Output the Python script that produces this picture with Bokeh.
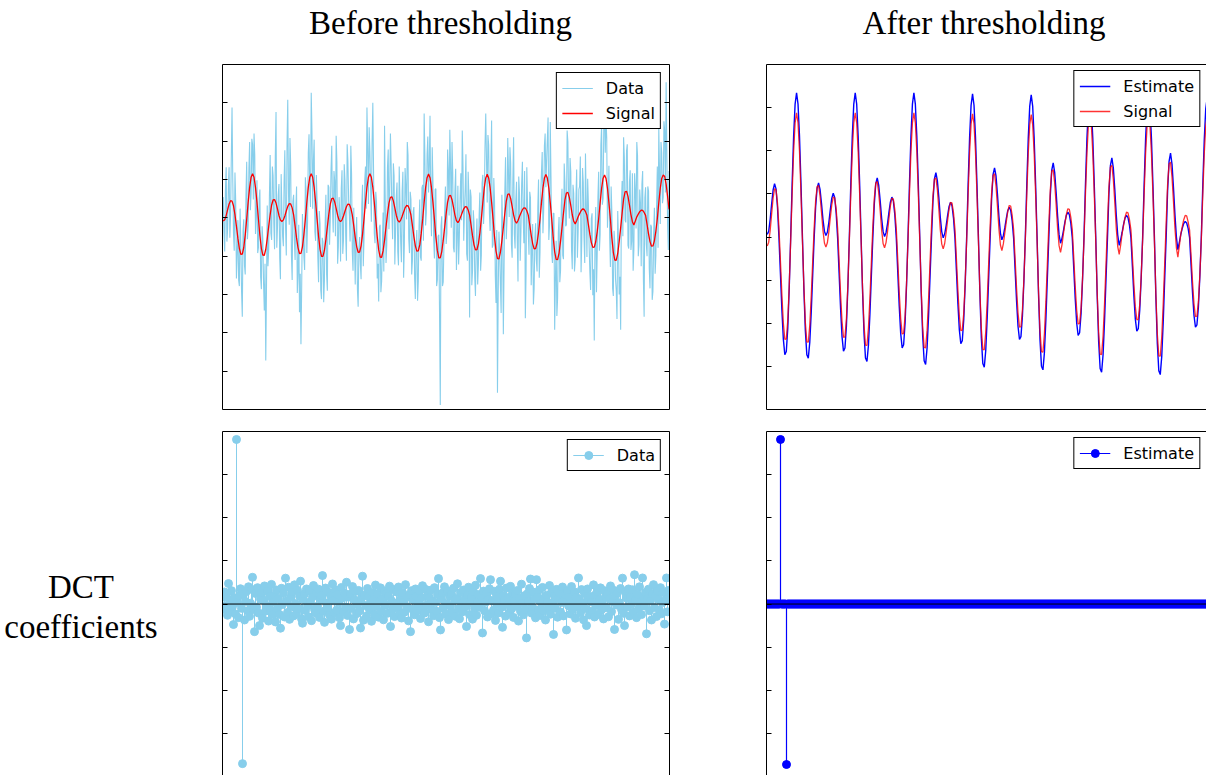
from bokeh.plotting import figure
from bokeh.models import (Range1d, LinearAxis, FixedTicker, Legend, LegendItem,
                          Span, Div, ColumnDataSource)
from bokeh.layouts import row, column
from bokeh.embed import file_html
from bokeh.resources import INLINE

# ---------------- data ----------------
sample_index = list(range(305))

signal = [
    -0.42, -0.24, 0.29, 1.07, 1.80, 2.24, 2.18, 1.57, 0.41, -1.10,
    -2.68, -4.00, -4.75, -4.73, -3.87, -2.25, -0.15, 2.03, 3.97, 5.29,
    5.76, 5.29, 3.97, 2.03, -0.16, -2.31, -3.97, -4.86, -4.88, -4.10,
    -2.75, -1.13, 0.43, 1.68, 2.33, 2.39, 1.92, 1.15, 0.31, -0.28,
    -0.47, -0.27, 0.24, 0.89, 1.49, 1.85, 1.81, 1.30, 0.40, -1.08,
    -2.62, -3.91, -4.65, -4.63, -3.78, -2.21, -0.15, 2.03, 3.97, 5.29,
    5.76, 5.29, 3.97, 2.03, -0.16, -2.38, -4.09, -5.01, -5.03, -4.23,
    -2.84, -1.17, 0.47, 1.80, 2.51, 2.57, 2.07, 1.23, 0.34, -0.30,
    -0.50, -0.26, 0.24, 0.86, 1.45, 1.80, 1.76, 1.26, 0.39, -1.04,
    -2.54, -3.78, -4.49, -4.47, -3.65, -2.13, -0.14, 2.03, 3.97, 5.29,
    5.76, 5.29, 3.97, 2.03, -0.17, -2.44, -4.18, -5.12, -5.14, -4.32,
    -2.90, -1.19, 0.50, 1.92, 2.68, 2.74, 2.21, 1.31, 0.34, -0.33,
    -0.55, -0.30, 0.21, 0.77, 1.30, 1.61, 1.57, 1.13, 0.37, -1.01,
    -2.45, -3.65, -4.34, -4.32, -3.53, -2.06, -0.14, 2.01, 3.93, 5.24,
    5.71, 5.24, 3.93, 2.01, -0.17, -2.48, -4.25, -5.21, -5.23, -4.40,
    -2.95, -1.21, 0.53, 2.06, 2.86, 2.93, 2.36, 1.41, 0.36, -0.37,
    -0.63, -0.32, 0.19, 0.70, 1.18, 1.46, 1.43, 1.02, 0.36, -0.97,
    -2.36, -3.52, -4.18, -4.16, -3.40, -1.98, -0.13, 2.00, 3.91, 5.21,
    5.68, 5.21, 3.91, 2.00, -0.17, -2.53, -4.34, -5.32, -5.34, -4.49,
    -3.01, -1.24, 0.56, 2.19, 3.05, 3.12, 2.51, 1.50, 0.38, -0.40,
    -0.71, -0.35, 0.17, 0.63, 1.06, 1.31, 1.28, 0.92, 0.35, -0.93,
    -2.27, -3.39, -4.03, -4.01, -3.28, -1.91, -0.13, 1.99, 3.89, 5.19,
    5.65, 5.19, 3.89, 1.99, -0.18, -2.59, -4.43, -5.43, -5.45, -4.59,
    -3.08, -1.26, 0.60, 2.33, 3.24, 3.32, 2.67, 1.59, 0.40, -0.45,
    -0.81, -0.38, 0.15, 0.55, 0.93, 1.15, 1.12, 0.81, 0.33, -0.89,
    -2.17, -3.23, -3.84, -3.82, -3.12, -1.82, -0.12, 1.97, 3.86, 5.14,
    5.60, 5.14, 3.86, 1.97, -0.18, -2.62, -4.50, -5.51, -5.53, -4.65,
    -3.12, -1.28, 0.63, 2.43, 3.39, 3.47, 2.79, 1.66, 0.42, -0.50,
    -0.93, -0.42, 0.13, 0.48, 0.80, 1.00, 0.98, 0.70, 0.32, -0.86,
    -2.08, -3.10, -3.69, -3.67, -3.00, -1.75, -0.12, 1.97, 3.86, 5.14,
    5.60, 5.40, 4.40, 2.80, 1.10,
]

estimate = [
    0.12, 0.26, 0.81, 1.53, 2.18, 2.47, 2.23, 1.37, -0.04, -1.72,
    -3.40, -4.75, -5.46, -5.31, -4.24, -2.37, 0.02, 2.50, 4.68, 6.16,
    6.69, 6.16, 4.68, 2.50, 0.02, -2.44, -4.36, -5.46, -5.62, -4.89,
    -3.50, -1.77, -0.04, 1.39, 2.26, 2.51, 2.21, 1.56, 0.82, 0.27,
    0.07, 0.22, 0.67, 1.26, 1.79, 2.03, 1.83, 1.12, -0.04, -1.67,
    -3.30, -4.62, -5.30, -5.15, -4.12, -2.30, 0.02, 2.50, 4.68, 6.16,
    6.69, 6.16, 4.68, 2.50, 0.02, -2.51, -4.48, -5.61, -5.77, -5.03,
    -3.60, -1.81, -0.05, 1.52, 2.47, 2.74, 2.41, 1.70, 0.87, 0.26,
    0.02, 0.20, 0.61, 1.15, 1.63, 1.85, 1.67, 1.02, -0.04, -1.62,
    -3.20, -4.47, -5.14, -5.00, -3.99, -2.23, 0.02, 2.50, 4.68, 6.16,
    6.69, 6.16, 4.68, 2.50, 0.02, -2.57, -4.59, -5.74, -5.91, -5.14,
    -3.68, -1.86, -0.05, 1.65, 2.69, 2.98, 2.62, 1.85, 0.92, 0.24,
    -0.04, 0.15, 0.53, 1.00, 1.42, 1.61, 1.45, 0.89, -0.04, -1.56,
    -3.08, -4.31, -4.95, -4.81, -3.84, -2.15, 0.02, 2.48, 4.64, 6.11,
    6.64, 6.11, 4.64, 2.48, 0.02, -2.62, -4.69, -5.87, -6.04, -5.26,
    -3.76, -1.90, -0.05, 1.78, 2.90, 3.21, 2.83, 1.97, 0.95, 0.18,
    -0.13, 0.06, 0.43, 0.85, 1.22, 1.38, 1.24, 0.76, -0.04, -1.49,
    -2.96, -4.14, -4.75, -4.62, -3.69, -2.06, 0.02, 2.46, 4.61, 6.07,
    6.59, 6.07, 4.61, 2.46, 0.02, -2.68, -4.78, -5.99, -6.16, -5.36,
    -3.84, -1.94, -0.06, 1.90, 3.10, 3.44, 3.00, 2.07, 0.97, 0.11,
    -0.29, -0.05, 0.30, 0.70, 1.01, 1.15, 1.04, 0.64, -0.03, -1.44,
    -2.85, -3.98, -4.57, -4.44, -3.55, -1.99, 0.02, 2.45, 4.58, 6.03,
    6.55, 6.03, 4.58, 2.45, 0.02, -2.72, -4.87, -6.10, -6.27, -5.46,
    -3.91, -1.97, -0.06, 2.03, 3.31, 3.67, 3.20, 2.20, 1.02, 0.09,
    -0.39, -0.12, 0.22, 0.60, 0.88, 1.00, 0.90, 0.55, -0.03, -1.37,
    -2.72, -3.81, -4.37, -4.25, -3.39, -1.90, 0.02, 2.43, 4.55, 5.99,
    6.50, 5.99, 4.55, 2.43, 0.02, -2.77, -4.95, -6.20, -6.38, -5.55,
    -3.97, -2.00, -0.07, 2.15, 3.51, 3.89, 3.38, 2.30, 1.05, 0.00,
    -0.59, -0.25, 0.12, 0.40, 0.62, 0.72, 0.65, 0.40, -0.03, -1.31,
    -2.60, -3.64, -4.18, -4.07, -3.25, -1.82, 0.02, 2.41, 4.51, 5.94,
    6.45, 6.25, 5.20, 3.40, 1.40,
]

# noisy data at whole sample positions
noisy_data = [
    2.7, -4.4, 6.6, -1.4, 6.6, 0.3, 14.4, -2.0, 5.9, -7.9,
    -0.3, -8.9, -3.6, -12.9, -0.2, -7.4, 7.3, -1.0, 9.9, 3.1,
    9.6, 11.0, -2.1, 4.9, -3.9, 3.7, -9.3, -2.8, -12.1, -18.6,
    1.6, -4.2, 8.2, -2.9, 5.5, -4.1, 13.8, -1.2, 4.4, -8.0,
    1.1, -3.7, 8.8, -4.9, 15.4, -0.9, 6.9, -8.1, 3.0, -5.5,
    4.1, -7.2, -12.3, -16.5, 0.5, -5.0, 5.3, -4.6, 8.5, 3.9,
    16.3, 1.2, 10.2, -3.0, 2.0, -8.4, -0.7, -10.6, -3.1, -8.1,
    3.0, -9.5, 4.0, -0.2, 9.4, -1.9, 4.8, 10.7, -6.0, 2.7,
    -5.7, 6.2, -2.9, 4.9, -5.6, 7.4, 0.3, 9.4, -4.4, 1.3,
    -8.7, 0.1, -11.6, -2.5, -8.0, 4.3, -2.7, 6.7, 14.4, 1.8,
    8.7, -0.5, 15.0, -2.0, 3.4, -7.9, -10.9, -0.9, -8.3, 0.7,
    12.0, -5.9, 6.6, -1.5, 11.0, 0.6, 7.1, -6.1, 2.8, -4.4,
    6.7, -3.2, 3.5, -7.8, 6.5, -0.2, 8.2, -4.6, 2.4, -5.6,
    1.4, -10.6, -1.6, -8.3, 2.4, -5.6, 4.3, 13.6, -1.0, 8.3,
    3.3, 13.3, -2.4, 4.8, -5.3, 3.8, -8.1, -2.2, -24.4, 0.2,
    -8.4, 1.0, -3.4, 8.9, 0.3, 6.9, 9.9, -3.9, 3.6, -6.8,
    4.2, -2.5, 5.8, 11.4, -3.0, 3.9, -4.7, 6.0, -13.0, 2.7,
    -6.9, -0.6, -10.2, -0.1, -6.1, 3.3, -4.9, 5.6, 1.6, 13.6,
    2.0, 9.5, -1.7, 12.7, -3.5, 2.2, -11.1, -22.8, -1.8, -8.7,
    3.0, -15.2, 3.4, -2.8, 10.4, 0.1, 7.1, -5.2, 10.5, -4.0,
    4.7, -8.3, 3.2, -1.8, 7.3, -3.3, -13.1, 6.6, -1.8, 3.4,
    -8.8, -0.8, -9.2, -0.7, -7.0, 5.0, -4.5, 5.9, -2.0, 9.4,
    4.0, 10.2, -2.9, 12.5, -4.7, 0.6, -14.6, -3.0, -10.5, 0.1,
    -6.9, 3.8, -5.4, 4.6, -0.9, 9.9, -0.1, 6.0, -6.7, 3.2,
    -5.5, 6.3, -1.9, 4.1, -7.1, 6.5, -2.5, 8.4, -5.1, 1.8,
    -7.1, -0.1, -10.1, -16.0, 1.4, -4.8, 6.0, -2.2, 12.0, 2.5,
    14.9, 13.0, -1.3, 6.8, -6.4, 0.8, -10.2, -3.3, -9.5, 0.9,
    -10.0, -14.6, 4.8, 10.5, -0.3, 8.7, -3.6, 4.7, -4.2, 5.8,
    -4.2, 3.6, 9.9, -5.0, 3.7, -6.3, 6.1, -12.9, 4.0, -5.0,
    3.5, -9.2, -1.2, -9.6, 1.3, -5.0, 6.7, 11.8, -0.8, 8.5,
    2.7, 11.4, 17.7, -1.0, 6.1,
]

# noisy data at the half-sample positions in between
noisy_data_mid = [
    -1.8, 3.5, -3.1, 4.2, -2.6, 7.8, 5.1, -4.3, 2.2, -4.7,
    -8.1, 1.2, -9.6, -1.7, -6.2, 2.9, -2.8, 6.4, 1.0, 10.3,
    2.4, 8.2, 0.3, -4.6, 2.5, -7.7, -1.1, -8.6, -6.0, -9.1,
    -6.3, 2.9, -2.0, 6.7, -0.8, 8.1, -3.9, 3.0, -5.2, 5.7,
    -2.4, 4.8, -1.3, 9.7, 3.2, 10.4, -4.8, 2.2, -2.9, 1.0,
    -9.8, -0.9, -7.3, -9.0, -2.0, -6.8, 3.6, -0.5, 10.9, 1.4,
    11.2, 7.5, -1.8, 5.6, -5.1, 0.9, -9.4, -2.6, -11.0, -0.7,
    -7.4, 4.3, -3.5, 6.3, 1.2, 6.1, -2.4, 7.2, -3.8, 0.5,
    3.9, -4.7, 7.0, -2.3, 9.6, 2.4, -3.1, 5.8, -6.9, -3.2,
    -2.1, -9.3, -4.0, -6.1, 1.8, -6.3, 4.9, 1.2, 9.0, 11.8,
    3.6, 9.8, 6.2, -3.3, 2.1, -6.0, -1.2, -9.7, -3.5, -7.0,
    1.9, -3.6, 8.9, 3.4, 6.9, -2.8, 5.5, -1.9, 4.6, -6.2,
    2.1, -5.8, 6.0, -3.6, 4.2, 9.9, -2.7, 3.4, -7.4, 0.8,
    -7.9, -3.5, -10.8, -1.0, -5.1, 3.9, -3.0, 8.1, 0.7, 10.6,
    6.8, 1.5, 9.2, -2.8, 3.7, -8.9, -2.4, -12.6, -1.1, -8.9,
    -3.6, 4.1, -2.0, 6.2, 11.5, -1.3, 5.9, -4.5, 6.4, -2.9,
    -6.1, 2.6, -0.3, 6.7, 1.1, 8.3, -5.6, 2.9, 3.7, -8.8,
    1.0, -7.8, -3.1, -8.7, 0.4, -6.9, 4.5, -0.8, 9.4, 7.7,
    10.8, 0.6, 6.8, -3.9, 5.2, -7.5, -1.6, -9.9, -4.3, -12.4,
    -0.9, -6.4, 7.9, -0.2, 5.9, 9.2, -3.4, 5.0, -2.1, 2.3,
    -3.1, 5.4, -5.6, 4.5, 0.2, 6.1, -7.2, 1.8, -4.8, 2.6,
    -4.2, -11.3, -2.6, -5.5, 1.4, -7.8, 3.1, 8.6, 0.9, 11.0,
    7.4, 13.1, -0.8, 5.3, -5.9, 0.6, -8.1, -12.8, -1.9, -8.4,
    1.5, -4.9, 7.1, -1.1, 11.4, 2.2, 7.8, -4.2, 4.3, -7.0,
    2.5, -5.2, 3.7, 8.0, -2.9, 4.6, -5.9, 2.0, 5.1, -3.7,
    -9.4, 0.6, -6.7, -2.4, -9.7, 2.7, -4.3, 9.5, 1.7, 11.7,
    8.5, 10.4, 3.0, -2.6, 4.1, -9.2, -1.7, -8.0, -13.2, -3.1,
    -7.7, 1.9, -2.4, 7.9, -0.6, 9.6, -4.0, 6.2, -3.0, -6.9,
    5.8, -1.4, 8.1, -3.5, 1.9, 4.4, -8.0, 2.6, -3.4, 4.1,
    -6.6, -0.9, -10.7, -2.0, -7.3, 1.6, -3.9, 5.8, 9.9, 1.9,
    12.6, 3.3, 7.9, -4.2,
]

dct_index = list(range(448))

dct_data = [
    3.1, -2.4, 5.6, -0.9, 4.3, -5.2, 9.5, 1.8, -3.7, 6.2, -1.1, -9.5, 2.9, -4.6, 76.3, 0.7,
    -6.3, 3.8, 7.1, -2.0, -74.0, 4.5, -7.4, 1.2, 5.9, -3.1, 8.0, -5.7, 0.4, 6.8, 12.4, -2.6,
    -12.8, 4.9, -1.5, 7.6, -4.2, -10.0, 2.3, 5.4, -6.6, 1.7, 8.4, -3.3, -0.6, 6.0, -7.9, 3.5,
    -2.8, 9.1, -5.0, 0.9, 4.1, -8.3, 6.5, -1.9, 2.6, -4.9, -11.2, 7.3, -0.2, 5.1, -6.0, 12.0,
    1.4, -3.9, 7.8, -7.1, 3.0, -1.3, 5.7, -5.5, 8.9, 0.2, -4.4, 6.4, -2.2, 3.6, 10.6, -6.8,
    -8.9, 2.1, 4.7, -3.0, 7.0, -0.8, -5.9, 6.1, 1.0, -7.7, 3.3, 8.6, -2.5, -4.1, 5.2, -1.0,
    6.9, -6.2, 2.4, 4.0, 13.2, -3.4, -8.5, 7.4, 0.5, -1.8, 5.5, -5.1, 3.9, -7.0, 9.3, 1.6,
    -4.0, 6.6, -2.9, 4.4, 0.8, -6.4, -10.0, 7.7, 2.7, -3.6, 5.0, -1.4, 10.1, -5.3, 3.2, -11.8,
    4.6, -2.1, 8.1, -6.9, 1.9, 5.8, -4.5, 0.0, 6.3, -3.2, -11.1, 2.8, 12.9, -7.5, 4.2, -0.7,
    -5.6, 7.2, 3.4, -2.7, 0.6, -8.0, 5.3, 2.0, -4.8, 8.8, -1.2, 4.8, -6.1, 1.1, 7.5, -3.5,
    2.5, -7.3, 6.0, -0.4, 4.9, -4.3, 3.7, 8.3, -10.4, 1.5, -2.3, 6.7, -5.8, 0.3, 5.6, -1.6,
    7.9, -4.7, 2.2, -6.5, 5.4, 0.9, -3.8, 9.0, -1.1, 3.1, -7.8, 4.3, -12.8, 6.2, -2.4, 1.8,
    -5.0, 7.0, 3.5, -3.0, 0.1, 5.9, -6.7, 2.9, 8.5, -1.7, -4.2, 6.8, -0.5, 4.0, -8.2, 3.0,
    6.4, -2.6, 1.3, -5.4, 7.6, 0.7, -3.3, 4.5, 11.8, -6.3, -12.0, 2.4, 5.1, -1.9, 8.0, -4.6,
    0.4, 6.1, -7.2, 3.8, -0.9, 4.7, -4.0, 7.3, 1.7, -5.7, 2.6, 9.4, -2.2, -6.8, 5.3, 0.2,
    -3.6, 6.5, 2.0, -1.3, -10.4, 4.2, 7.8, -4.9, 0.6, 3.3, -7.0, 5.7, -2.0, 8.7, -5.2, 1.0,
    4.4, -1.5, 11.8, 3.1, -13.4, 6.0, -3.1, 0.8, 5.2, -6.0, 2.1, 7.1, 11.3, -4.4, 1.4, -2.9,
    5.9, -7.6, 3.6, 0.0, -4.1, 6.9, 10.6, -1.6, -10.8, 4.0, 1.9, -5.6, 7.4, -0.3, 3.0, -3.9,
    8.2, -2.3, 5.0, -6.2, 1.2, 4.6, -1.0, 6.3, -7.9, 2.7, -3.4, 9.2, 0.5, -5.0, 3.9, -2.7,
    -15.7, 4.8, 0.9, 7.2, 11.6, -4.2, -1.4, 5.5, 2.3, -6.4, 11.3, 3.4, -2.8, 6.6, -5.3, 0.4,
    7.7, -3.0, 2.9, -7.4, 4.1, 1.0, -1.9, 8.6, -4.7, 5.4, 0.2, -14.1, 3.7, -2.0, 6.8, -6.1,
    2.6, 5.0, -3.7, 0.7, 7.9, -5.5, 1.6, 4.4, -12.0, 6.1, -0.8, 3.2, -4.6, 8.1, -2.4, 1.3,
    5.6, -6.6, 3.0, -1.2, 12.1, 2.2, -4.0, 6.7, 0.3, -7.3, 4.9, -2.1, -10.0, 7.0, 1.8, -5.1,
    3.5, 0.9, -3.2, 8.9, -6.0, 4.3, -0.6, 5.8, -4.8, 2.0, 7.5, -2.7, 0.1, -6.9, 6.2, 3.6,
    -1.7, 4.7, -5.9, 2.5, 8.4, -3.5, 1.1, 6.4, -11.8, 3.8, -0.4, 5.2, -7.1, 0.6, 7.2, -2.5,
    12.0, -4.3, -10.0, 5.7, 2.8, -1.4, 7.0, -5.5, 3.3, 0.0, 6.6, -3.8, 13.6, 1.9, -6.3, 4.5,
    -2.2, 8.0, 0.8, -4.9, 12.1, 3.2, -0.9, 5.4, -13.8, 2.4, 6.9, -3.1, 1.5, -7.4, 4.6, 9.0,
    -1.6, 3.9, -5.8, 6.0, 2.2, -2.9, 7.6, -4.5, 0.7, 5.3, -9.3, 1.8, 12.1, -3.6, 6.3, 2.9,
]

dct_estimate = [
    0, 0, 0, 0, 0, 0, 0, 0, 0, 0, 0, 0, 0, 0, 76.3, 0,
    0, 0, 0, 0, -74.4, 0, 0, 0, 0, 0, 0, 0, 0, 0, 0, 0,
    0, 0, 0, 0, 0, 0, 0, 0, 0, 0, 0, 0, 0, 0, 0, 0,
    0, 0, 0, 0, 0, 0, 0, 0, 0, 0, 0, 0, 0, 0, 0, 0,
    0, 0, 0, 0, 0, 0, 0, 0, 0, 0, 0, 0, 0, 0, 0, 0,
    0, 0, 0, 0, 0, 0, 0, 0, 0, 0, 0, 0, 0, 0, 0, 0,
    0, 0, 0, 0, 0, 0, 0, 0, 0, 0, 0, 0, 0, 0, 0, 0,
    0, 0, 0, 0, 0, 0, 0, 0, 0, 0, 0, 0, 0, 0, 0, 0,
    0, 0, 0, 0, 0, 0, 0, 0, 0, 0, 0, 0, 0, 0, 0, 0,
    0, 0, 0, 0, 0, 0, 0, 0, 0, 0, 0, 0, 0, 0, 0, 0,
    0, 0, 0, 0, 0, 0, 0, 0, 0, 0, 0, 0, 0, 0, 0, 0,
    0, 0, 0, 0, 0, 0, 0, 0, 0, 0, 0, 0, 0, 0, 0, 0,
    0, 0, 0, 0, 0, 0, 0, 0, 0, 0, 0, 0, 0, 0, 0, 0,
    0, 0, 0, 0, 0, 0, 0, 0, 0, 0, 0, 0, 0, 0, 0, 0,
    0, 0, 0, 0, 0, 0, 0, 0, 0, 0, 0, 0, 0, 0, 0, 0,
    0, 0, 0, 0, 0, 0, 0, 0, 0, 0, 0, 0, 0, 0, 0, 0,
    0, 0, 0, 0, 0, 0, 0, 0, 0, 0, 0, 0, 0, 0, 0, 0,
    0, 0, 0, 0, 0, 0, 0, 0, 0, 0, 0, 0, 0, 0, 0, 0,
    0, 0, 0, 0, 0, 0, 0, 0, 0, 0, 0, 0, 0, 0, 0, 0,
    0, 0, 0, 0, 0, 0, 0, 0, 0, 0, 0, 0, 0, 0, 0, 0,
    0, 0, 0, 0, 0, 0, 0, 0, 0, 0, 0, 0, 0, 0, 0, 0,
    0, 0, 0, 0, 0, 0, 0, 0, 0, 0, 0, 0, 0, 0, 0, 0,
    0, 0, 0, 0, 0, 0, 0, 0, 0, 0, 0, 0, 0, 0, 0, 0,
    0, 0, 0, 0, 0, 0, 0, 0, 0, 0, 0, 0, 0, 0, 0, 0,
    0, 0, 0, 0, 0, 0, 0, 0, 0, 0, 0, 0, 0, 0, 0, 0,
    0, 0, 0, 0, 0, 0, 0, 0, 0, 0, 0, 0, 0, 0, 0, 0,
    0, 0, 0, 0, 0, 0, 0, 0, 0, 0, 0, 0, 0, 0, 0, 0,
    0, 0, 0, 0, 0, 0, 0, 0, 0, 0, 0, 0, 0, 0, 0, 0,
]

col_titles = ["Before thresholding", "After thresholding"]
row_label = ["DCT", "coefficients"]

top_ticks_left = [-20, -15, -10, -5, 0, 5, 10, 15]
top_ticks_right = [-6, -4, -2, 0, 2, 4, 6]
dct_ticks = [-60, -40, -20, 0, 20, 40, 60]

# interleave the whole- and half-sample readings of the noisy data
data_pos = []
data_val = []
for i in range(len(noisy_data)):
    data_pos.append(sample_index[i])
    data_val.append(noisy_data[i])
    if i < len(noisy_data_mid):
        data_pos.append(sample_index[i] + 0.5)
        data_val.append(noisy_data_mid[i])

# ---------------- styling helpers ----------------
SERIF = "Liberation Serif"
SANS = "DejaVu Sans"
SKY = "#87CEEB"


def make_panel(x_start, x_end, y_lo, y_hi, ticks, fw, fh, mbl, mbr, mbt, mbb,
               right_axis, bottom_axis):
    p = figure(frame_width=fw, frame_height=fh,
               x_range=Range1d(x_start, x_end), y_range=Range1d(y_lo, y_hi),
               x_axis_type=None, y_axis_type=None,
               toolbar_location=None, output_backend="svg",
               min_border_left=mbl, min_border_right=mbr,
               min_border_top=mbt, min_border_bottom=mbb,
               outline_line_color=None, background_fill_color="white",
               border_fill_color="white")

    def tick_axis():
        return LinearAxis(ticker=FixedTicker(ticks=ticks), major_tick_in=5,
                          major_tick_out=0, minor_tick_line_color=None,
                          major_label_text_color=None, major_label_standoff=0,
                          axis_line_color="black", major_tick_line_color="black")

    def plain_axis():
        return LinearAxis(ticker=FixedTicker(ticks=[]), major_tick_line_color=None,
                          minor_tick_line_color=None, major_label_text_color=None,
                          major_label_standoff=0, axis_line_color="black")

    p.add_layout(tick_axis(), "left")
    if right_axis:
        p.add_layout(tick_axis(), "right")
    p.add_layout(plain_axis(), "above")
    if bottom_axis:
        p.add_layout(plain_axis(), "below")
    return p


def add_legend(p, items, margin):
    lg = Legend(items=[LegendItem(label=l, renderers=r) for l, r in items],
                location="top_right", margin=margin, padding=5, spacing=5,
                glyph_width=31, glyph_height=20, label_height=20,
                label_standoff=13, label_text_font=SANS,
                label_text_font_size="16px", label_text_color="black",
                border_line_color="black",
                border_line_width=1, border_line_alpha=1.0,
                background_fill_color="white", background_fill_alpha=1.0)
    p.add_layout(lg)


# geometry (page has no margin: origin at 0,0)
FW_L, FW_R, FH_T, FH_B = 447, 440, 345, 344
X0, X1 = -0.5, 304.3
X1_R = X0 + (X1 - X0) * FW_R / FW_L
D1, D1_R = 447, 440

# ---------------- top-left ----------------
tl = make_panel(X0, X1, -25, 20, top_ticks_left, FW_L, FH_T, 222, 49, 16, 11, True, True)
r_data = tl.line(data_pos, data_val, line_color=SKY, line_width=1.1)
r_sig = tl.line(sample_index, signal, line_color="red", line_width=1.3)
add_legend(tl, [("Data", [r_data]), ("Signal", [r_sig])], 8)

# ---------------- top-right ----------------
tr = make_panel(X0, X1_R, -8, 8, top_ticks_right, FW_R, FH_T, 48, 0, 16, 11, False, True)
r_est = tr.line(sample_index, estimate, line_color="blue", line_width=1.4)
r_sig2 = tr.line(sample_index, signal, line_color="red", line_width=1.3, line_alpha=0.8)
add_legend(tr, [("Estimate", [r_est]), ("Signal", [r_sig2])], 6)

# ---------------- bottom-left ----------------
bl = make_panel(0, D1, -79.5, 80, dct_ticks, FW_L, FH_B, 56, 49, 11, 0, True, False)
src_d = ColumnDataSource(dict(x=dct_index, y=dct_data))
s1 = bl.segment(x0="x", y0=0, x1="x", y1="y", source=src_d, line_color=SKY, line_width=1)
m1 = bl.scatter("x", "y", source=src_d, size=8, fill_color=SKY, line_color=SKY)
bl.add_layout(Span(location=0, dimension="width", line_color="black", line_width=1))
add_legend(bl, [("Data", [s1, m1])], 8)

# ---------------- bottom-right ----------------
br = make_panel(0, D1_R, -79.5, 80, dct_ticks, FW_R, FH_B, 48, 0, 11, 0, False, False)
src_e = ColumnDataSource(dict(x=dct_index, y=dct_estimate))
s2 = br.segment(x0="x", y0=0, x1="x", y1="y", source=src_e, line_color="blue", line_width=1.2)
m2 = br.scatter("x", "y", source=src_e, size=8, fill_color="blue", line_color="blue")
br.add_layout(Span(location=0, dimension="width", line_color="black", line_width=1))
add_legend(br, [("Estimate", [s2, m2])], 6)

# ---------------- texts ----------------
title_style = {"font-family": SERIF, "font-size": "33px", "text-align": "center",
               "line-height": "40px", "color": "black"}
sp0 = Div(text="", width=240, height=48, margin=0)
t1 = Div(text='<div style="padding-top:3px">' + col_titles[0] + "</div>",
         width=401, height=48, margin=0, styles=title_style)
sp1 = Div(text="", width=143, height=48, margin=0)
t2 = Div(text='<div style="padding-top:3px">' + col_titles[1] + "</div>",
         width=400, height=48, margin=0, styles=title_style)

label_style = {"font-family": SERIF, "font-size": "33px", "text-align": "center",
               "line-height": "40px", "color": "black"}
rl = Div(text='<div style="padding-top:147px">' + row_label[0] + "<br>" + row_label[1] + "</div>",
         width=162, height=355, margin=0, styles=label_style)

bl.min_border_left = 60

layout = column(row(sp0, t1, sp1, t2), row(tl, tr), row(rl, bl, br))

open("out.html", "w").write(file_html(layout, INLINE))
